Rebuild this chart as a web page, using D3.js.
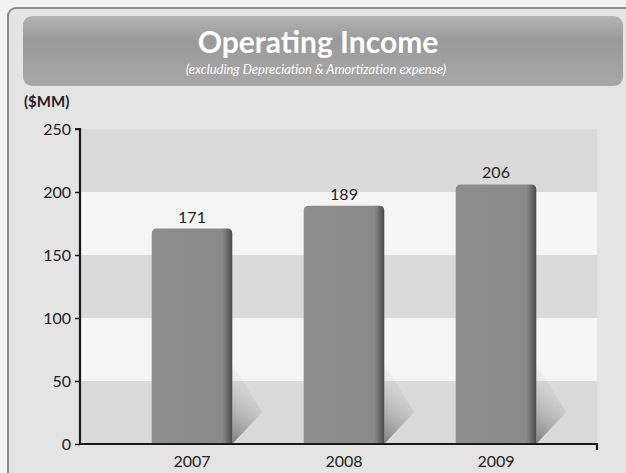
<!DOCTYPE html>
<html>
<head>
<meta charset="utf-8">
<script src="https://cdn.jsdelivr.net/npm/d3@7"></script>
<style>
  html, body { margin: 0; padding: 0; background: #ffffff; }
  svg { display: block; }
</style>
</head>
<body>
<script>
// Operating income by year, $MM
const years = ["2007", "2008", "2009"];
const incomeValues = [171, 189, 206];
const yTickValues = [0, 50, 100, 150, 200, 250];
const titleText = "Operating Income";
const subtitleText = "(excluding Depreciation & Amortization expense)";
const unitText = "($MM)";

const W = 626, H = 473;
const svg = d3.select("body").append("svg").attr("width", W).attr("height", H);
const defs = svg.append("defs");

const font = "Lato, 'Open Sans', sans-serif";

// banner gradient
const bg = defs.append("linearGradient").attr("id", "bannerGrad")
  .attr("x1", 0).attr("y1", 0).attr("x2", 0).attr("y2", 1);
bg.append("stop").attr("offset", "0%").attr("stop-color", "#b4b4b4");
bg.append("stop").attr("offset", "35%").attr("stop-color", "#9a9a9a");
bg.append("stop").attr("offset", "100%").attr("stop-color", "#a8a8a8");

// bar face gradient
const barGrad = defs.append("linearGradient").attr("id", "barGrad")
  .attr("x1", 0).attr("y1", 0).attr("x2", 1).attr("y2", 0);
barGrad.append("stop").attr("offset", "0%").attr("stop-color", "#8e8e8e");
barGrad.append("stop").attr("offset", "88%").attr("stop-color", "#8a8a8a");
barGrad.append("stop").attr("offset", "94%").attr("stop-color", "#6a6a6a");
barGrad.append("stop").attr("offset", "100%").attr("stop-color", "#4a4a4a");

// shadow gradient, dark at the foot of the bar and fading upward
const shGrad = defs.append("linearGradient").attr("id", "shGrad")
  .attr("x1", 0).attr("y1", 1).attr("x2", 0.3).attr("y2", 0);
shGrad.append("stop").attr("offset", "0%").attr("stop-color", "#777777").attr("stop-opacity", 0.95);
shGrad.append("stop").attr("offset", "45%").attr("stop-color", "#999999").attr("stop-opacity", 0.5);
shGrad.append("stop").attr("offset", "100%").attr("stop-color", "#cccccc").attr("stop-opacity", 0);

// outer panel
svg.append("rect").attr("x", 0).attr("y", 0).attr("width", W).attr("height", H).attr("fill", "#f2f2f2");
svg.append("rect").attr("x", 8).attr("y", 8).attr("width", W + 20).attr("height", H + 20)
  .attr("rx", 8).attr("fill", "#e4e4e4").attr("stroke", "#8c8c8c").attr("stroke-width", 2);

// title banner
svg.append("rect").attr("x", 23).attr("y", 16).attr("width", 600).attr("height", 70)
  .attr("rx", 9).attr("fill", "url(#bannerGrad)");
svg.append("text").attr("x", 318).attr("y", 53).attr("text-anchor", "middle")
  .attr("font-family", font).attr("font-weight", 700).attr("font-size", 30)
  .attr("fill", "#ffffff").text(titleText);
svg.append("text").attr("x", 316).attr("y", 74).attr("text-anchor", "middle")
  .attr("font-family", font).attr("font-style", "italic").attr("font-size", 13)
  .attr("fill", "#ffffff").text(subtitleText);

svg.append("text").attr("x", 24).attr("y", 107)
  .attr("font-family", font).attr("font-weight", 700).attr("font-size", 15)
  .attr("fill", "#222").text(unitText);

// scales
const y = d3.scaleLinear().domain([0, 250]).range([444, 129]);
const x = d3.scaleBand().domain(years).range([116, 572]).paddingInner(0.47).paddingOuter(0.235);
const axisLeft = 80, axisRight = 597;

// alternating background bands
const bands = d3.pairs(yTickValues);
svg.append("g").selectAll("rect").data(bands).join("rect")
  .attr("x", axisLeft).attr("width", axisRight - axisLeft)
  .attr("y", d => y(d[1])).attr("height", d => y(d[0]) - y(d[1]))
  .attr("fill", (d, i) => i % 2 === 0 ? "#dadada" : "#f5f5f5");

// bar shadows: a wedge cast up and to the right from each bar's foot
svg.append("g").selectAll("path").data(incomeValues).join("path")
  .attr("d", (d, i) => {
    const xr = x(years[i]) + x.bandwidth();
    const y0 = y(0);
    return `M${xr},${y0} L${xr + 30},${y0 - 32} L${xr},${y0 - 80} Z`;
  })
  .attr("fill", "url(#shGrad)");

// bars with rounded top
svg.append("g").selectAll("path").data(incomeValues).join("path")
  .attr("d", (d, i) => {
    const x0 = x(years[i]), w = x.bandwidth();
    const yt = y(d), yb = y(0), r = 5;
    return `M${x0},${yb} L${x0},${yt + r} Q${x0},${yt} ${x0 + r},${yt} L${x0 + w - r},${yt} Q${x0 + w},${yt} ${x0 + w},${yt + r} L${x0 + w},${yb} Z`;
  })
  .attr("fill", "url(#barGrad)");

// value labels
svg.append("g").selectAll("text").data(incomeValues).join("text")
  .attr("x", (d, i) => x(years[i]) + x.bandwidth() / 2)
  .attr("y", d => y(d) - 6)
  .attr("text-anchor", "middle")
  .attr("font-family", font).attr("font-size", 16).attr("fill", "#222")
  .text(d => d);

// y axis
const yAxis = d3.axisLeft(y).tickValues(yTickValues).tickSize(5).tickPadding(4);
const gy = svg.append("g").attr("transform", `translate(${axisLeft},0)`).call(yAxis);
gy.select(".domain").attr("stroke", "#1a1a1a").attr("stroke-width", 2.2).attr("d", `M-5,${y(250)}H0V${y(0)}`);
gy.selectAll(".tick line").attr("stroke", "#1a1a1a").attr("stroke-width", 1.5);
gy.selectAll(".tick text").attr("font-family", font).attr("font-size", 16).attr("fill", "#222");

// x axis
const gx = svg.append("g").attr("transform", `translate(0,${y(0)})`);
gx.append("path").attr("d", `M${axisLeft},0H${axisRight}V6`).attr("fill", "none")
  .attr("stroke", "#1a1a1a").attr("stroke-width", 2.2);
gx.selectAll("text").data(years).join("text")
  .attr("x", d => x(d) + x.bandwidth() / 2).attr("y", 23)
  .attr("text-anchor", "middle")
  .attr("font-family", font).attr("font-size", 16).attr("fill", "#222")
  .text(d => d);
</script>
</body>
</html>
